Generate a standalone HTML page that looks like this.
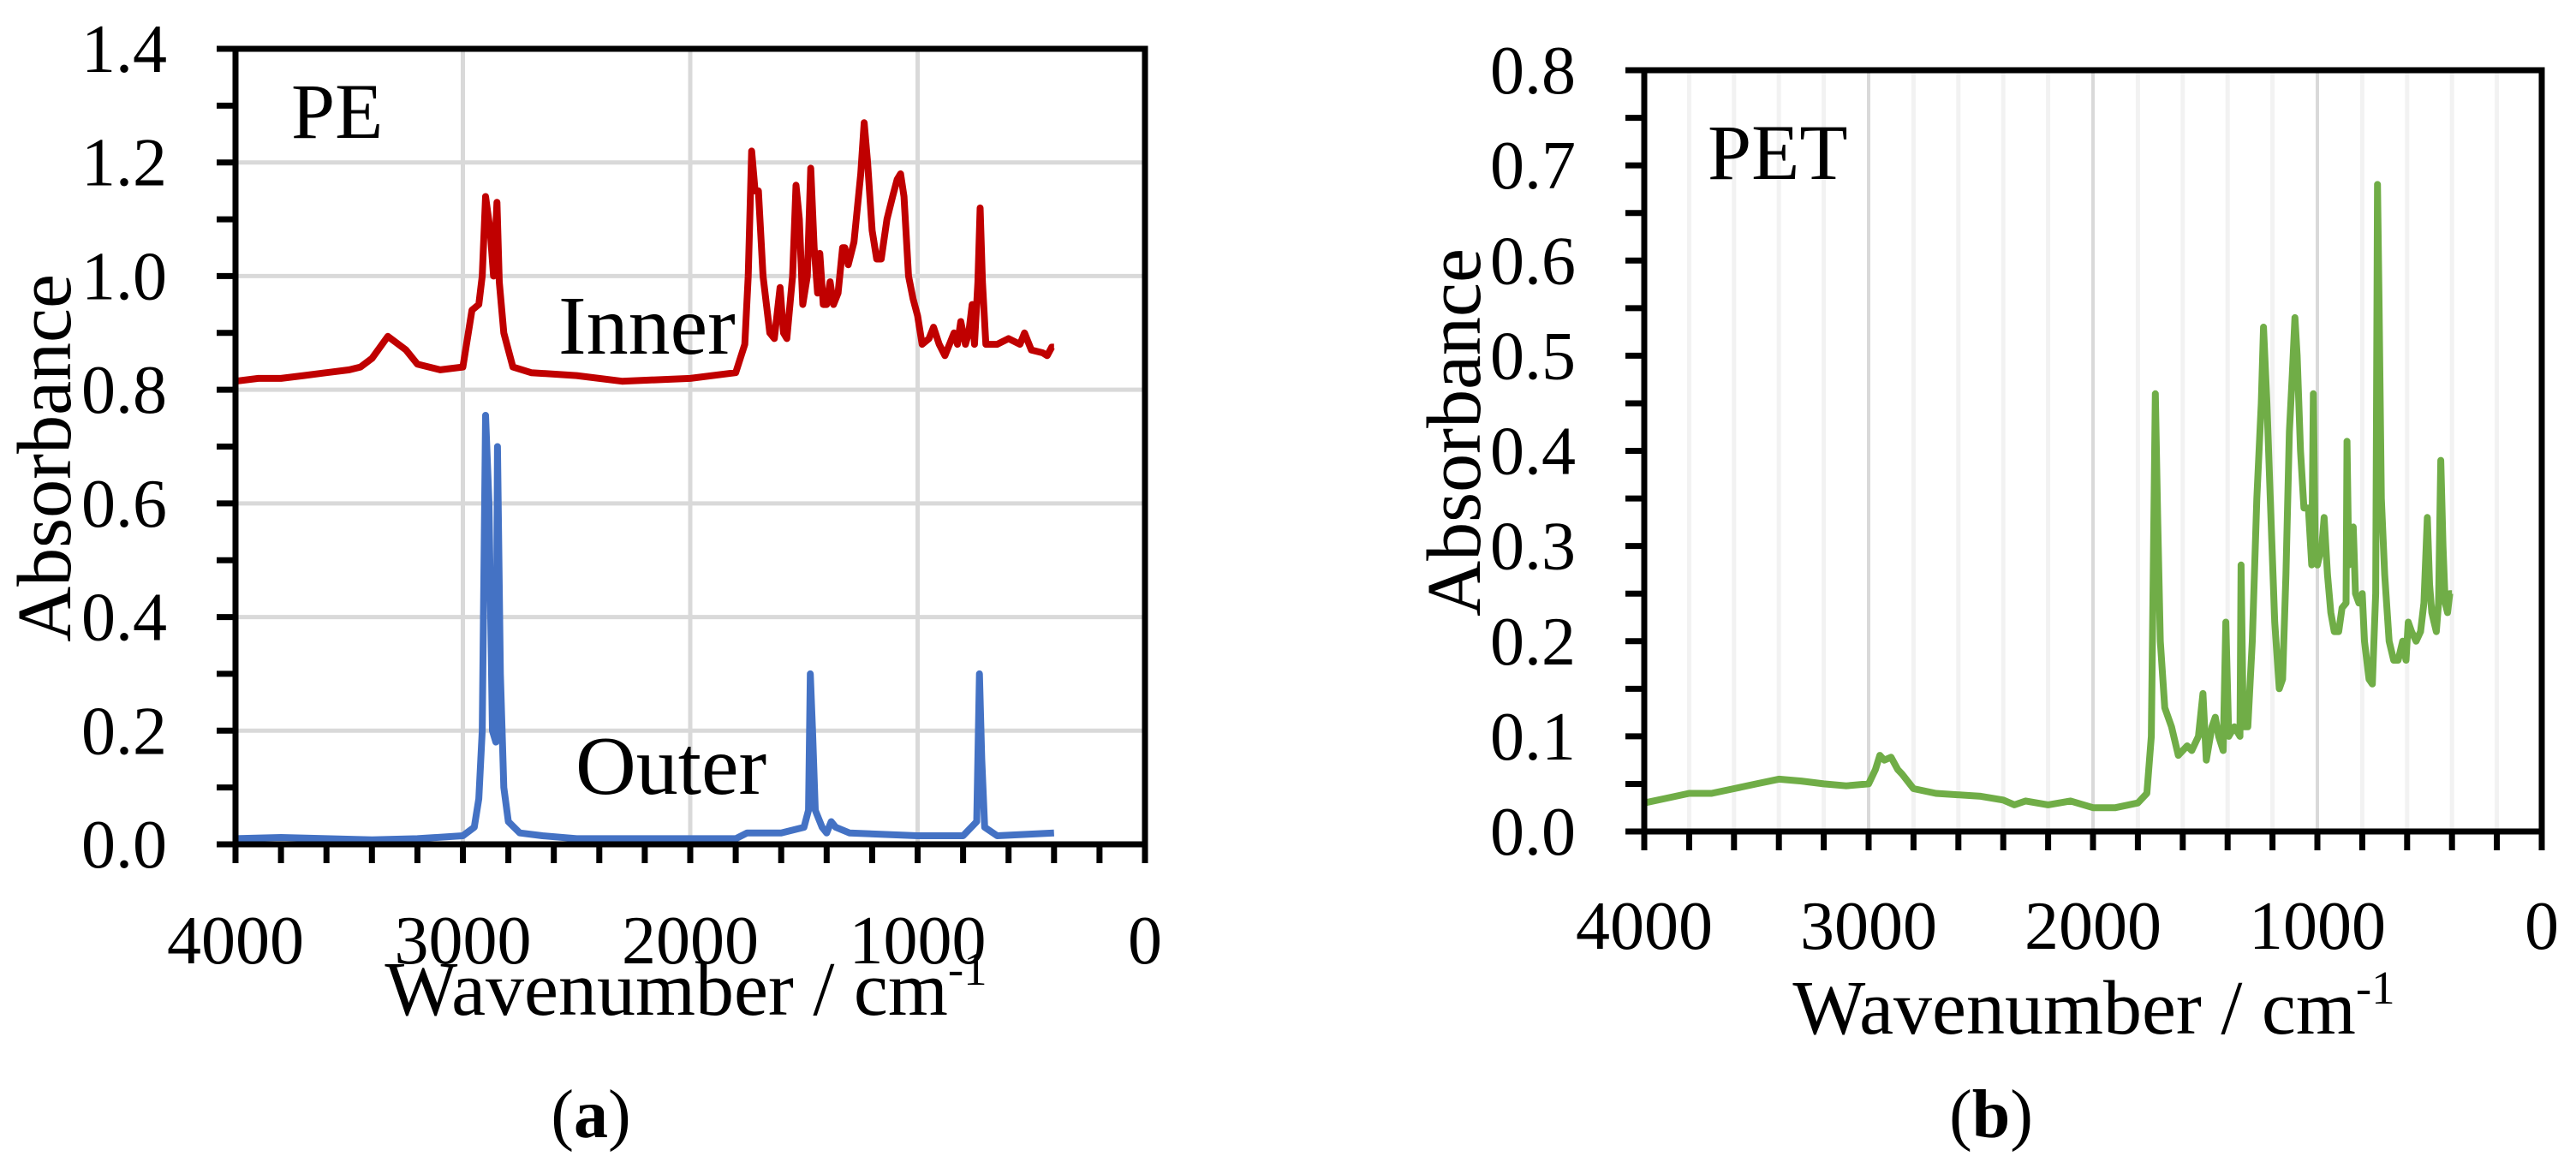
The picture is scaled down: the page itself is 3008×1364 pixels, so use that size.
<!DOCTYPE html>
<html><head><meta charset="utf-8"><style>
html,body{margin:0;padding:0;background:#fff;}
svg{display:block;font-family:"Liberation Serif",serif;}
</style></head><body>
<svg id="fig" width="3008" height="1364" viewBox="0 0 3008 1364" xmlns="http://www.w3.org/2000/svg"></svg>
<script>
// ---- Chart (a) data: PE spectra [wavenumber, absorbance]
const innerSeries = [[4000,0.815],[3900,0.82],[3800,0.82],[3700,0.825],[3600,0.83],[3500,0.835],[3450,0.84],[3400,0.855],[3330,0.894],[3250,0.87],[3200,0.845],[3100,0.835],[3000,0.84],[2960,0.94],[2930,0.95],[2915,1.0],[2900,1.14],[2880,1.08],[2865,1.0],[2850,1.13],[2840,0.99],[2820,0.9],[2780,0.84],[2700,0.83],[2500,0.825],[2300,0.815],[2000,0.82],[1800,0.83],[1760,0.88],[1745,1.0],[1730,1.22],[1715,1.15],[1700,1.15],[1680,1.0],[1650,0.9],[1630,0.89],[1605,0.98],[1590,0.9],[1575,0.89],[1550,1.0],[1535,1.16],[1520,1.1],[1505,0.95],[1485,1.0],[1470,1.19],[1455,1.05],[1440,0.97],[1430,1.04],[1415,0.95],[1400,0.95],[1385,0.99],[1370,0.95],[1350,0.97],[1330,1.05],[1320,1.05],[1305,1.02],[1280,1.06],[1250,1.18],[1235,1.27],[1220,1.2],[1200,1.08],[1180,1.03],[1160,1.03],[1135,1.1],[1110,1.14],[1090,1.17],[1075,1.18],[1060,1.14],[1040,1.0],[1020,0.96],[1000,0.93],[980,0.88],[950,0.89],[930,0.91],[905,0.88],[880,0.86],[860,0.88],[840,0.9],[825,0.88],[810,0.92],[790,0.88],[775,0.9],[760,0.95],[750,0.88],[735,0.99],[725,1.12],[715,0.99],[700,0.88],[650,0.88],[600,0.89],[550,0.88],[530,0.9],[500,0.87],[450,0.865],[430,0.86],[410,0.875],[400,0.875]];
const outerSeries = [[4000,0.01],[3800,0.012],[3600,0.01],[3400,0.008],[3200,0.01],[3000,0.015],[2950,0.03],[2930,0.08],[2915,0.2],[2900,0.755],[2885,0.6],[2870,0.2],[2855,0.18],[2848,0.70],[2835,0.3],[2820,0.1],[2800,0.04],[2750,0.02],[2650,0.015],[2500,0.01],[2000,0.01],[1800,0.01],[1750,0.02],[1600,0.02],[1500,0.03],[1480,0.06],[1472,0.30],[1462,0.2],[1450,0.06],[1420,0.03],[1400,0.02],[1380,0.04],[1360,0.03],[1300,0.02],[1000,0.015],[800,0.015],[740,0.04],[728,0.30],[718,0.15],[705,0.03],[650,0.015],[400,0.02]];
const aYTickLabels = ["0.0","0.2","0.4","0.6","0.8","1.0","1.2","1.4"];
const xTickLabels = ["4000","3000","2000","1000","0"];
// ---- Chart (b) data: PET spectrum
const petSeries = [[4000,0.03],[3900,0.035],[3800,0.04],[3700,0.04],[3600,0.045],[3500,0.05],[3400,0.055],[3300,0.053],[3200,0.05],[3100,0.048],[3000,0.05],[2970,0.065],[2950,0.08],[2930,0.075],[2900,0.078],[2870,0.065],[2850,0.06],[2800,0.045],[2700,0.04],[2500,0.037],[2400,0.033],[2350,0.028],[2300,0.032],[2200,0.028],[2100,0.032],[2000,0.025],[1900,0.025],[1800,0.03],[1760,0.04],[1740,0.1],[1730,0.3],[1722,0.46],[1712,0.33],[1700,0.2],[1680,0.13],[1650,0.11],[1620,0.08],[1580,0.09],[1560,0.085],[1530,0.1],[1510,0.145],[1495,0.075],[1470,0.11],[1455,0.12],[1440,0.1],[1420,0.085],[1408,0.22],[1395,0.1],[1370,0.11],[1345,0.1],[1340,0.28],[1330,0.11],[1310,0.11],[1290,0.2],[1270,0.35],[1250,0.45],[1240,0.53],[1225,0.45],[1210,0.35],[1190,0.22],[1170,0.15],[1155,0.16],[1140,0.27],[1125,0.42],[1112,0.48],[1100,0.54],[1090,0.5],[1075,0.4],[1060,0.34],[1040,0.34],[1025,0.28],[1018,0.46],[1010,0.3],[1000,0.28],[980,0.3],[970,0.33],[955,0.27],[940,0.23],[925,0.21],[905,0.21],[890,0.235],[872,0.24],[868,0.41],[860,0.28],[850,0.3],[840,0.32],[830,0.25],[815,0.24],[800,0.25],[790,0.2],[770,0.16],[755,0.155],[740,0.25],[732,0.68],[725,0.55],[715,0.35],[700,0.27],[680,0.2],[660,0.18],[640,0.18],[620,0.2],[605,0.18],[595,0.22],[580,0.21],[560,0.2],[540,0.21],[525,0.24],[510,0.33],[500,0.26],[490,0.23],[480,0.22],[470,0.21],[460,0.24],[450,0.39],[440,0.3],[430,0.24],[420,0.23],[410,0.25],[400,0.25]];
const bYTickLabels = ["0.0","0.1","0.2","0.3","0.4","0.5","0.6","0.7","0.8"];

const NS="http://www.w3.org/2000/svg";
const svg=document.getElementById('fig');
function mk(tag,attrs,parent){const e=document.createElementNS(NS,tag);for(const k in attrs)e.setAttribute(k,attrs[k]);(parent||svg).appendChild(e);return e;}

function drawChart(cfg){
  const g=mk('g',{});
  
  
  const X=w=>cfg.L+(4000-w)/4000*(cfg.R-cfg.L);
  const Y=v=>cfg.B-v/cfg.ymax*(cfg.B-cfg.T);
  for(let w=200;w<4000;w+=200){
    const major=w%1000===0;
    if(!major && !cfg.minorGrid) continue;
    const l=mk('line',{x1:X(w),x2:X(w),y1:cfg.T,y2:cfg.B,stroke:major?'#d9d9d9':'#f2f2f2','stroke-width':major?(cfg.minorGrid?4:5):5},g);
    
    
  }
  if(cfg.hGrid){
    for(let i=1;i<cfg.yLabels.length-1;i++){
      const v=parseFloat(cfg.yLabels[i]);
      const l=mk('line',{x1:cfg.L,x2:cfg.R,y1:Y(v),y2:Y(v),stroke:'#d9d9d9','stroke-width':5},g);
      
      
    }
  }
  cfg.series.forEach(s=>{
    const p=mk('polyline',{points:s.data.map(d=>X(d[0]).toFixed(1)+','+Y(d[1]).toFixed(1)).join(' '),fill:'none',stroke:s.color,'stroke-width':8,'stroke-linejoin':'round'},g);
    
    
  });
  const f=mk('rect',{x:cfg.L,y:cfg.T,width:cfg.R-cfg.L,height:cfg.B-cfg.T,fill:'none',stroke:'#000','stroke-width':7},g);
  
  
  for(let w=0;w<=4000;w+=200){
    const t=mk('line',{x1:X(w),x2:X(w),y1:cfg.B,y2:cfg.B+22,stroke:'#000','stroke-width':7},g);
    
    
  }
  for(let v=0;v<=cfg.ymax+1e-9;v+=cfg.yMinor){
    const t=mk('line',{x1:cfg.L-22,x2:cfg.L,y1:Y(v),y2:Y(v),stroke:'#000','stroke-width':7},g);
    
    
  }
  cfg.yLabels.forEach(s=>{
    const t=mk('text',{x:cfg.L-80,y:Y(parseFloat(s))+27,'text-anchor':'end','font-size':80},g);
    t.textContent=s;
    
    
  });
  xTickLabels.forEach(s=>{
    const t=mk('text',{x:X(parseFloat(s)),y:cfg.xLabelY,'text-anchor':'middle','font-size':80},g);
    t.textContent=s;
    
    
  });
  return {X,Y,g};
}

drawChart({name:'chart-a-pe',L:275,R:1337,T:57,B:986,ymax:1.4,yMinor:0.1,yLabels:aYTickLabels,hGrid:true,minorGrid:false,xLabelY:1125,
  series:[{name:'inner-series',data:innerSeries,color:'#c00000'},{name:'outer-series',data:outerSeries,color:'#4472c4'}]});
drawChart({name:'chart-b-pet',L:1920,R:2968,T:82,B:971,ymax:0.8,yMinor:0.05,yLabels:bYTickLabels,hGrid:false,minorGrid:true,xLabelY:1108,
  series:[{name:'pet-series',data:petSeries,color:'#70ad47'}]});
</script>
<svg style="position:absolute;left:0;top:0" width="3008" height="1364" xmlns="http://www.w3.org/2000/svg">
  <g font-family="Liberation Serif, serif" fill="#000">
    <text x="340" y="161" font-size="92">PE</text>
    <text x="652" y="413" font-size="98">Inner</text>
    <text x="672" y="927" font-size="98">Outer</text>
    <text x="1994" y="209" font-size="92">PET</text>
    <text transform="translate(82,535) rotate(-90)" text-anchor="middle" font-size="90">Absorbance</text>
    <text transform="translate(1728,505) rotate(-90)" text-anchor="middle" font-size="90">Absorbance</text>
    <text x="801" y="1185" text-anchor="middle" font-size="90">Wavenumber / cm<tspan font-size="55" dy="-35">-1</tspan></text>
    <text x="2445" y="1207" text-anchor="middle" font-size="90">Wavenumber / cm<tspan font-size="55" dy="-35">-1</tspan></text>
    <text x="690" y="1328" text-anchor="middle" font-size="80">(<tspan font-weight="bold">a</tspan>)</text>
    <text x="2325" y="1328" text-anchor="middle" font-size="80">(<tspan font-weight="bold">b</tspan>)</text>
  </g>
</svg>
</body></html>
